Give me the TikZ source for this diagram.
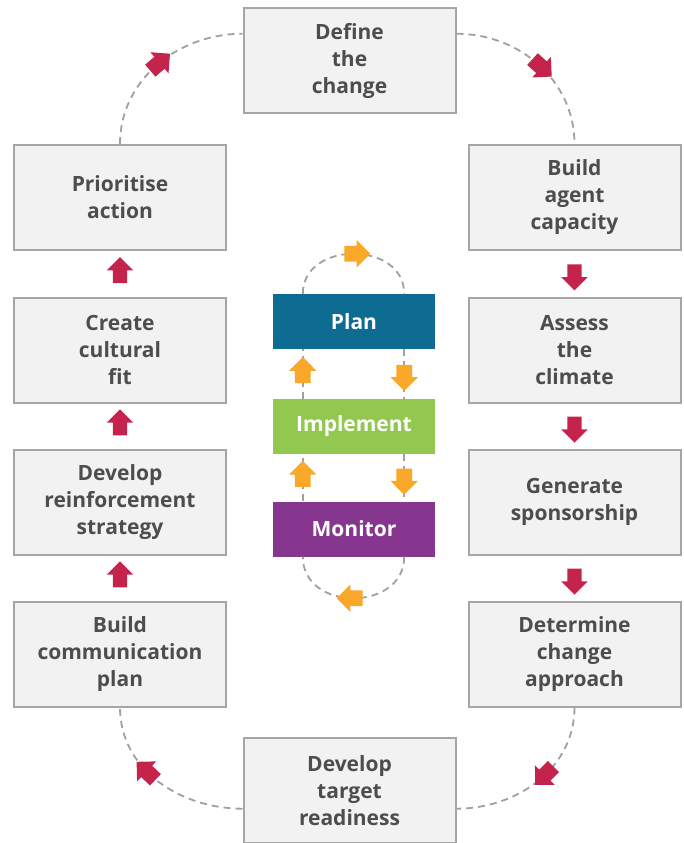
\documentclass[tikz,border=0pt]{standalone}
\usepackage{fontspec}
\setmainfont{Open Sans}
\usetikzlibrary{shapes.arrows,calc}

\definecolor{boxfill}{RGB}{242,242,242}
\definecolor{boxline}{RGB}{166,166,166}
\definecolor{boxtext}{RGB}{77,77,77}
\definecolor{dashgray}{RGB}{160,160,160}
\definecolor{arrowred}{RGB}{196,35,75}
\definecolor{arroworange}{RGB}{249,168,42}
\definecolor{planblue}{RGB}{14,108,146}
\definecolor{implgreen}{RGB}{146,200,80}
\definecolor{monpurple}{RGB}{135,54,143}

\begin{document}
\begin{tikzpicture}[x=1pt,y=1pt]
\tikzstyle{stage}=[draw=boxline,fill=boxfill,line width=2pt,minimum width=212pt,minimum height=105pt,align=center,text=boxtext,font=\bfseries\fontsize{21}{27}\selectfont]
\tikzstyle{phase}=[minimum width=162pt,minimum height=55pt,text=white,font=\bfseries\fontsize{21}{24}\selectfont]
\tikzstyle{link}=[draw=dashgray,line width=1.8pt,dash pattern=on 7pt off 5pt]
\tikzstyle{blockarrow}=[single arrow,draw=none,minimum height=26pt,inner xsep=0pt,inner ysep=7pt,single arrow head extend=6pt,sloped,allow upside down,anchor=center]
\tikzstyle{redarrow}=[blockarrow,fill=arrowred]
\tikzstyle{orangearrow}=[blockarrow,fill=arroworange]
\useasboundingbox (0,0) rectangle (684,-843);

% outer cycle
\node[stage] (define) at (349.5,-60.5) {Define\\the\\change};
\node[stage] (prio) at (120,-197.5) {Prioritise\\action};
\node[stage] (agent) at (574.5,-197.5) {Build\\agent\\capacity};
\node[stage] (create) at (120,-350) {Create\\cultural\\fit};
\node[stage] (assess) at (574.5,-350) {Assess\\the\\climate};
\node[stage] (reinforce) at (120,-502) {Develop\\reinforcement\\strategy};
\node[stage] (sponsor) at (574.5,-502) {Generate\\sponsorship};
\node[stage] (comm) at (120,-654) {Build\\communication\\plan};
\node[stage] (approach) at (574.5,-654) {Determine\\change\\approach};
\node[stage] (target) at (349.5,-790.5) {Develop\\target\\readiness};

\draw[link] (prio.north) to[out=90,in=180] node[redarrow]{} ($(define.north west)!0.25!(define.south west)$);
\draw[link] ($(define.north east)!0.25!(define.south east)$) to[out=0,in=90] node[redarrow]{} (agent.north);
\draw[link] (approach.south) to[out=-90,in=0] node[redarrow,pos=0.43]{} ($(target.north east)!0.67!(target.south east)$);
\draw[link] ($(target.north west)!0.67!(target.south west)$) to[out=180,in=-90] node[redarrow,pos=0.57]{} (comm.south);

\path (agent.south) -- node[redarrow]{} (assess.north)
      (assess.south) -- node[redarrow]{} (sponsor.north)
      (sponsor.south) -- node[redarrow]{} (approach.north)
      (comm.north) -- node[redarrow]{} (reinforce.south)
      (reinforce.north) -- node[redarrow]{} (create.south)
      (create.north) -- node[redarrow]{} (prio.south);

% inner cycle
\node[phase,fill=planblue] (plan) at (354,-321.5) {Plan};
\node[phase,fill=implgreen] (implement) at (354,-426.5) {Implement};
\node[phase,fill=monpurple] (monitor) at (354,-529) {Monitor};

\draw[link] ([xshift=30pt]plan.north west) to[out=90,in=90,looseness=1.35] node[orangearrow]{} ([xshift=-31pt]plan.north east);
\draw[link] ([xshift=-31pt]plan.south east) -- node[orangearrow]{} ([xshift=-31pt]implement.north east);
\draw[link] ([xshift=-31pt]implement.south east) -- node[orangearrow]{} ([xshift=-31pt]monitor.north east);
\draw[link] ([xshift=-31pt]monitor.south east) to[out=-90,in=-90,looseness=1.4] node[orangearrow]{} ([xshift=30pt]monitor.south west);
\draw[link] ([xshift=30pt]monitor.north west) -- node[orangearrow]{} ([xshift=30pt]implement.south west);
\draw[link] ([xshift=30pt]implement.north west) -- node[orangearrow]{} ([xshift=30pt]plan.south west);
\end{tikzpicture}
\end{document}
